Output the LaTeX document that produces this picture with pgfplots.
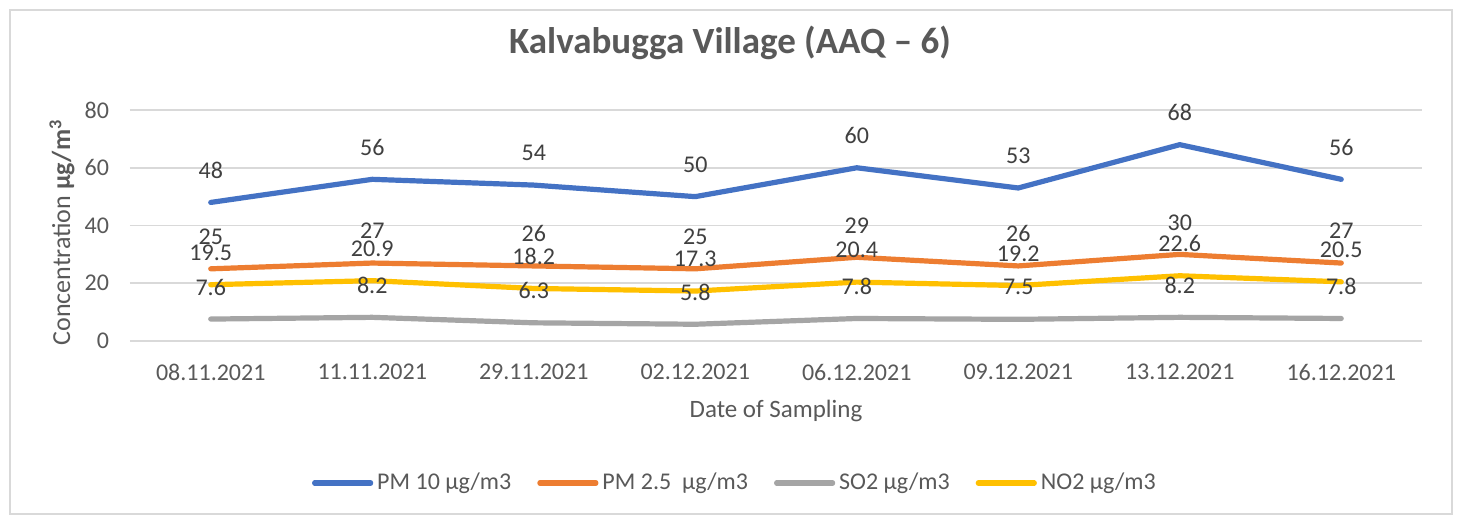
\documentclass[border=0pt]{standalone}
\usepackage{fontspec}
\setmainfont{Carlito}
\usepackage{pgfplots}
\pgfplotsset{compat=1.18}
\definecolor{cblue}{HTML}{4472C4}
\definecolor{corange}{HTML}{ED7D31}
\definecolor{cgray}{HTML}{A5A5A5}
\definecolor{cyellow}{HTML}{FFC000}
\definecolor{ctick}{HTML}{595959}
\definecolor{clab}{HTML}{404040}
\definecolor{cgrid}{HTML}{D9D9D9}
\begin{document}
\begin{tikzpicture}
\useasboundingbox (-65pt,-87pt) rectangle (672pt,170.5pt);
\fill[white] (-65pt,-87pt) rectangle (672pt,170.5pt);
\draw[cgrid, line width=0.8pt] (-60pt,-86.5pt) rectangle (661pt,165.5pt);
\begin{axis}[
  at={(0,0)}, anchor=south west,
  scale only axis, width=646pt, height=115.5pt,
  xmin=-0.5, xmax=7.5, ymin=0, ymax=80,
  xtick={0,...,7},
  xticklabels={08.11.2021,11.11.2021,29.11.2021,02.12.2021,06.12.2021,09.12.2021,13.12.2021,16.12.2021},
  ytick={0,20,40,60,80},
  axis line style={draw=none},
  ymajorgrids, xmajorgrids=false, major grid style={cgrid, line width=0.8pt},
  major tick length=0pt,
  /pgf/number format/assume math mode=true,
  tick label style={font=\fontsize{12}{14}\selectfont, text=ctick},
  yticklabel style={xshift=-7pt},
  xticklabel style={yshift=-8pt},
  xlabel={Date of Sampling},
  xlabel style={at={(axis description cs:0.5,0)}, anchor=center, yshift=-35pt, font=\fontsize{12.5}{14}\selectfont, text=ctick},
  ylabel={Concentration \textbf{µg/m\textsuperscript{3}}},
  ylabel style={at={(axis description cs:0,0.5)}, anchor=center, yshift=34pt, xshift=-3.5pt, font=\fontsize{13}{15}\selectfont, text=ctick},
  title={Kalvabugga Village (AAQ – 6)},
  title style={at={(axis description cs:0.5,1)}, anchor=center, xshift=-23pt, yshift=27.5pt, font=\fontsize{18.5}{20}\selectfont\bfseries, text=ctick},
  legend columns=4,
  legend style={at={(axis description cs:0.469,0)}, anchor=center, yshift=-71pt, draw=none, fill=none,
    font=\fontsize{12}{14}\selectfont, text=ctick,
    /tikz/every odd column/.append style={column sep=0pt},
    /tikz/every even column/.append style={column sep=11pt}},
  legend image code/.code={\draw[#1, line cap=round] (0pt,0pt) -- (28pt,0pt);},
  nodes near coords,
  every node near coord/.append style={anchor=center, yshift=16pt, font=\fontsize{12}{14}\selectfont, text=clab},
  point meta=explicit symbolic,
  every axis plot/.append style={line width=2.6pt, line join=round, line cap=round},
]
\addplot[cblue] coordinates {(0,48)[48] (1,56)[56] (2,54)[54] (3,50)[50] (4,60)[60] (5,53)[53] (6,68)[68] (7,56)[56]};
\addlegendentry{PM 10 µg/m3}
\addplot[corange] coordinates {(0,25)[25] (1,27)[27] (2,26)[26] (3,25)[25] (4,29)[29] (5,26)[26] (6,30)[30] (7,27)[27]};
\addlegendentry{PM 2.5\ \ µg/m3}
\addplot[cgray] coordinates {(0,7.6)[7.6] (1,8.2)[8.2] (2,6.3)[6.3] (3,5.8)[5.8] (4,7.8)[7.8] (5,7.5)[7.5] (6,8.2)[8.2] (7,7.8)[7.8]};
\addlegendentry{SO2 µg/m3}
\addplot[cyellow] coordinates {(0,19.5)[19.5] (1,20.9)[20.9] (2,18.2)[18.2] (3,17.3)[17.3] (4,20.4)[20.4] (5,19.2)[19.2] (6,22.6)[22.6] (7,20.5)[20.5]};
\addlegendentry{NO2 µg/m3}
\end{axis}
\end{tikzpicture}
\end{document}
